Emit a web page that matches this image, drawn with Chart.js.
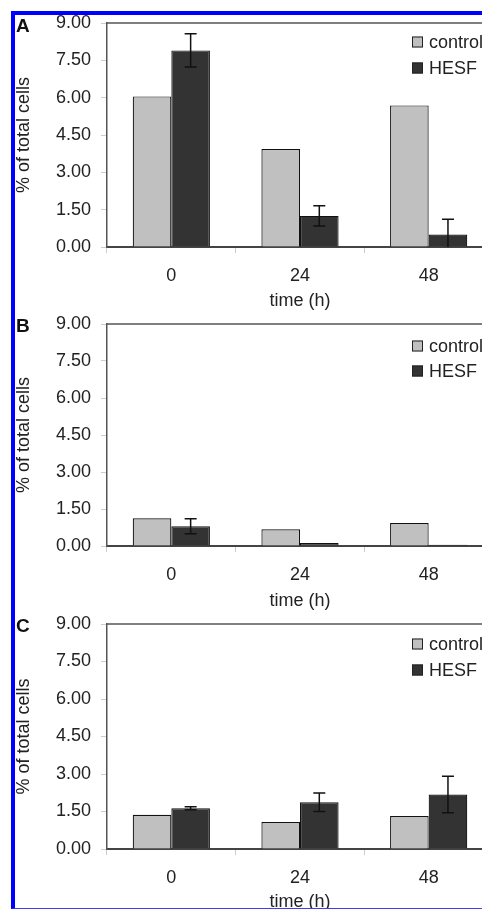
<!DOCTYPE html>
<html lang="en">
<head>
<meta charset="UTF-8">
<title>% of total cells over time</title>
<script src="https://cdn.jsdelivr.net/npm/chart.js"></script>
<style>
    html, body { margin: 0; padding: 0; background: #fff; }
    body { width: 482px; height: 910px; overflow: hidden; position: relative; font-family: "Liberation Sans", Arial, sans-serif; }
    .frame {
        position: absolute; left: 11px; top: 11px; width: 471px; height: 898px;
        border-left: 4px solid #0000ff; border-top: 4px solid #0000ff;
        border-bottom: 1px solid #4040e0;
        box-sizing: border-box; overflow: hidden;
    }
    .panel { position: absolute; left: 0; width: 478px; }
    .panel canvas { display: block; }
    .tag { position: absolute; left: 1px; font-weight: bold; font-size: 19px; color: #111; z-index: 2; line-height: 1; }
</style>
</head>
<body>
<div class="frame">
    <div class="panel" style="top:0;height:301px"><canvas id="chartA" width="478" height="301"></canvas></div>
    <div class="tag" style="top:1px">A</div>
    <div class="panel" style="top:301px;height:300px"><canvas id="chartB" width="478" height="300"></canvas></div>
    <div class="tag" style="top:301px">B</div>
    <div class="panel" style="top:601px;height:301px"><canvas id="chartC" width="478" height="301"></canvas></div>
    <div class="tag" style="top:601px">C</div>
</div>

<script>
const timeLabels = ['0', '24', '48'];
const seriesNames = ['control', 'HESF'];
const yTicks = [0, 1.5, 3, 4.5, 6, 7.5, 9];

const controlA = [6.05, 3.94, 5.69];
const hesfA = [7.90, 1.25, 0.50];
const hesfErrA = [0.67, 0.41, 0.61];

const controlB = [1.12, 0.68, 0.93];
const hesfB = [0.80, 0.12, 0.05];
const hesfErrB = [0.30, 0, 0];

const controlC = [1.37, 1.08, 1.32];
const hesfC = [1.63, 1.87, 2.18];
const hesfErrC = [0.06, 0.37, 0.73];

const FONT = '"Liberation Sans", Arial, sans-serif';

// error bars on the HESF bars, from dataset.errors
const errorBars = {
    id: 'errorBars',
    afterDatasetsDraw(chart) {
        const ctx = chart.ctx;
        const y = chart.scales.y;
        chart.data.datasets.forEach((ds, i) => {
            if (!ds.errors) return;
            const meta = chart.getDatasetMeta(i);
            meta.data.forEach((bar, j) => {
                const e = ds.errors[j];
                if (!e) return;
                const v = ds.data[j];
                const top = y.getPixelForValue(v + e);
                const bot = y.getPixelForValue(Math.max(0, v - e));
                ctx.save();
                ctx.strokeStyle = '#111';
                ctx.lineWidth = 1.5;
                ctx.beginPath();
                ctx.moveTo(bar.x, top); ctx.lineTo(bar.x, bot);
                ctx.moveTo(bar.x - 6, top); ctx.lineTo(bar.x + 6, top);
                if (v - e > 0) { ctx.moveTo(bar.x - 6, bot); ctx.lineTo(bar.x + 6, bot); }
                ctx.stroke();
                ctx.restore();
            });
        });
    }
};

// top frame line + legend inside the plot area
const frameAndLegend = {
    id: 'frameAndLegend',
    afterDraw(chart, args, opts) {
        const ctx = chart.ctx;
        const a = chart.chartArea;
        ctx.save();
        ctx.strokeStyle = '#555';
        ctx.lineWidth = 1.5;
        ctx.beginPath();
        ctx.moveTo(a.left, a.top); ctx.lineTo(a.right, a.top);
        ctx.stroke();

        ctx.font = '18px ' + FONT;
        ctx.textBaseline = 'middle';
        chart.data.datasets.forEach((ds, i) => {
            const cy = a.top + opts.rows[i];
            const bx = a.left + 305;
            ctx.fillStyle = ds.backgroundColor;
            ctx.fillRect(bx, cy - 5.5, 11, 11);
            ctx.strokeStyle = '#222';
            ctx.lineWidth = 1;
            ctx.strokeRect(bx + 0.5, cy - 5, 10, 10);
            ctx.fillStyle = '#222';
            ctx.fillText(ds.label, bx + 17, cy + 1);
        });
        ctx.restore();
    }
};

function makeChart(id, control, hesf, hesfErr, xHeight, rows) {
    new Chart(document.getElementById(id), {
        type: 'bar',
        data: {
            labels: timeLabels,
            datasets: [
                { label: seriesNames[0], data: control, backgroundColor: '#c0c0c0', borderColor: '#111', borderWidth: 1.2 },
                { label: seriesNames[1], data: hesf, errors: hesfErr, backgroundColor: '#333333', borderColor: '#111', borderWidth: 1.2 }
            ]
        },
        options: {
            responsive: false,
            animation: false,
            layout: { padding: { top: 8, right: 0, bottom: 0, left: 0 } },
            datasets: { bar: { categoryPercentage: 0.6, barPercentage: 1.0 } },
            plugins: {
                legend: { display: false },
                tooltip: { enabled: false },
                frameAndLegend: { rows: rows }
            },
            scales: {
                x: {
                    afterFit: s => { s.height = xHeight; s.paddingLeft = 0; s.paddingRight = 0; },
                    border: { display: true, color: '#444', width: 2 },
                    grid: { display: true, drawOnChartArea: false, drawTicks: true, tickLength: 6, color: '#ccc', offset: true },
                    ticks: { color: '#222', padding: 12, font: { family: FONT, size: 18 } },
                    title: { display: true, text: 'time (h)', color: '#222', padding: { top: 0, bottom: 4 }, font: { family: FONT, size: 18 } }
                },
                y: {
                    min: 0, max: 9,
                    afterFit: s => { s.width = 92; s.paddingTop = 0; s.paddingBottom = 0; },
                    afterBuildTicks: s => { s.ticks = yTicks.map(v => ({ value: v })); },
                    border: { display: true, color: '#555', width: 1.5 },
                    grid: { display: true, drawOnChartArea: false, drawTicks: true, tickLength: 6, color: '#ccc' },
                    ticks: { color: '#222', padding: 10, font: { family: FONT, size: 18 }, callback: v => Number(v).toFixed(2) },
                    title: { display: true, text: '% of total cells', color: '#222', padding: { top: 0, bottom: 0 }, font: { family: FONT, size: 18, lineHeight: 1 } }
                }
            }
        },
        plugins: [errorBars, frameAndLegend]
    });
}

makeChart('chartA', controlA, hesfA, hesfErrA, 69, [19, 45]);
makeChart('chartB', controlB, hesfB, hesfErrB, 70, [22, 47]);
makeChart('chartC', controlC, hesfC, hesfErrC, 68, [20, 46]);
</script>
</body>
</html>
